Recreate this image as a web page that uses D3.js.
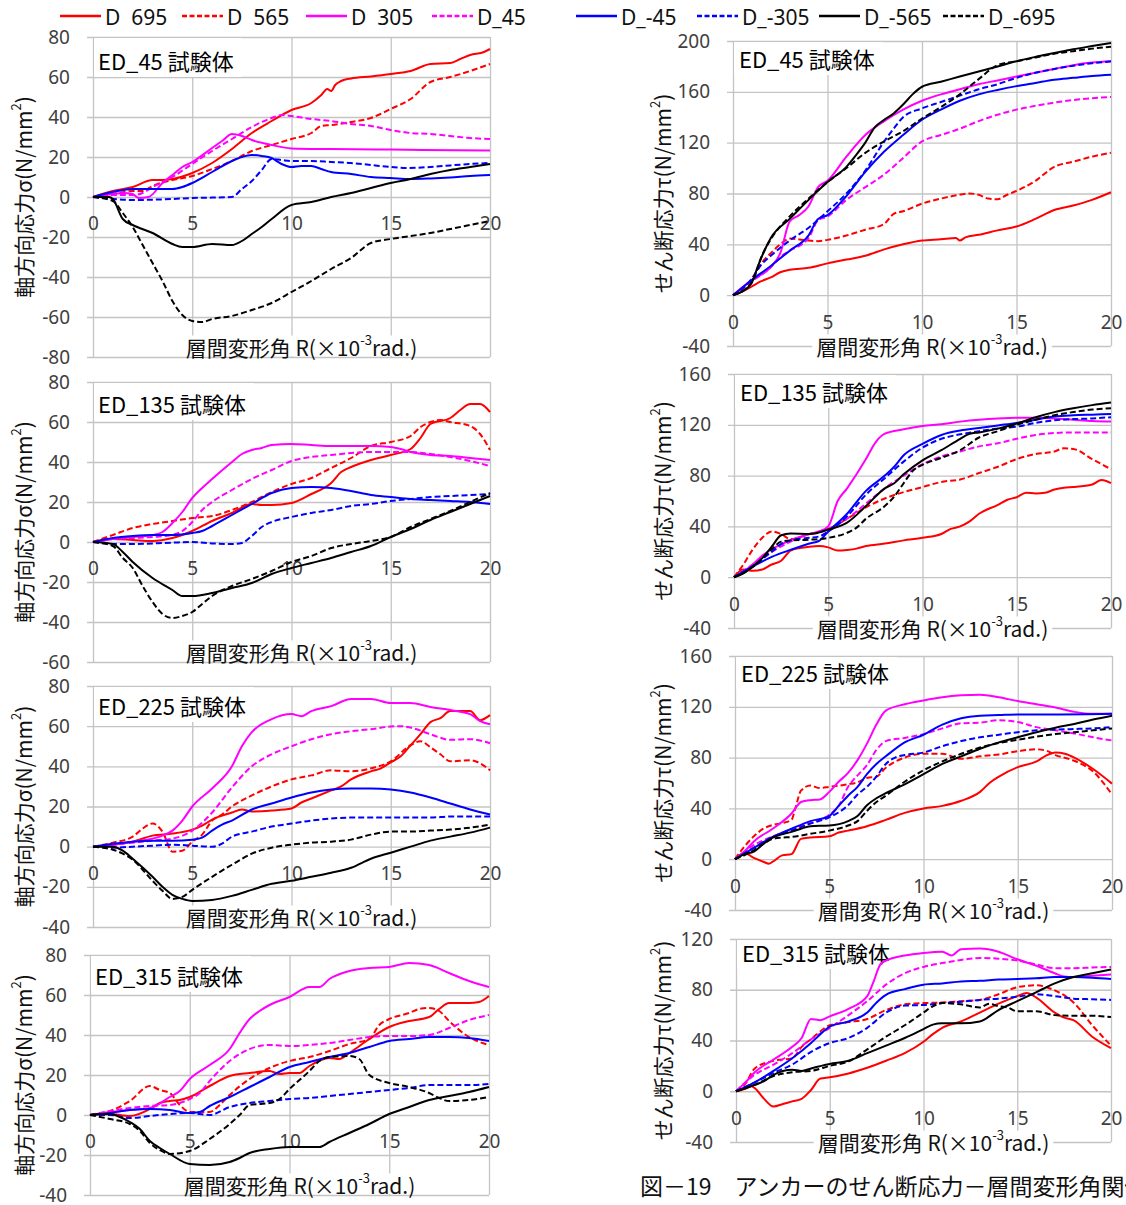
<!DOCTYPE html>
<html>
<head>
<meta charset="utf-8">
<script src="https://cdn.jsdelivr.net/npm/d3@7"></script>
<style>
  body { margin: 0; background: #fff; }
  svg { display: block; }
  .jp { font-family: "Noto Sans CJK JP", sans-serif; }
  .lat { font-family: "Noto Sans", "Noto Sans CJK JP", sans-serif; }
</style>
</head>
<body>
<svg id="chart" width="1126" height="1205"></svg>
<script>
// ---- data ----
const seriesNames = ["D  695", "D  565", "D  305", "D_45", "D_-45", "D_-305", "D_-565", "D_-695"];
const xTicks = [0, 5, 10, 15, 20];
const axialTicksA = [-80, -60, -40, -20, 0, 20, 40, 60, 80];
const axialTicksB = [-60, -40, -20, 0, 20, 40, 60, 80];
const axialTicksC = [-40, -20, 0, 20, 40, 60, 80];
const shearTicksA = [-40, 0, 40, 80, 120, 160, 200];
const shearTicksB = [-40, 0, 40, 80, 120, 160];
const shearTicksC = [-40, 0, 40, 80, 120];

// each panel: 8 series in seriesNames order, points [R, value]
const ed45Axial = [
  [[0,0],[1,3],[2,5],[3,8.5],[3.5,8.5],[4,9],[5,12],[6,17],[7,24],[8,32],[9,38],[10,43.5],[11,47],[11.5,51],[11.8,54],[12,53],[12.2,56],[12.5,58],[13,59.3],[14,60.3],[15,61.5],[16,63],[17,66.5],[18,67],[18.5,69],[19,71],[19.7,72.5],[20,74]],
  [[0,0],[1,1.5],[2,3],[2.5,3],[3,5.5],[4,8.5],[5,10.5],[6,14],[7,18],[8,23],[9,26],[10,29],[11,32],[11.5,35.5],[12,36],[13,37.5],[14,39.5],[15,44],[16,49],[17,57.5],[18,60],[19,63],[20,66.5]],
  [[0,0],[1,1.5],[1.5,2],[2,1.5],[2.3,-0.5],[2.8,0],[3.5,7],[4,11],[4.5,15],[5,17.5],[6,24.5],[6.5,28],[7,31.5],[7.5,30.5],[8,28.5],[9,26],[10,24.3],[12,24],[15,23.7],[20,23.3]],
  [[0,0],[1,1],[2,1],[2.5,2],[3,5],[4,10],[5,16.5],[6,23],[7,29],[8,35],[9,39.5],[9.5,41],[10,40.5],[11,39],[12,38],[13,36.5],[14,35.5],[15,33.5],[16,32],[17,31.5],[18,30.5],[19,29.5],[20,29]],
  [[0,0],[1,2.5],[1.7,3.8],[2,4],[3,4],[4,4],[4.5,5],[5,7],[6,12.5],[7,18],[7.5,20],[8,21],[8.5,20.5],[9,19.5],[9.5,16.5],[10,15],[10.5,15.5],[11,15.5],[11.5,14],[12,12.5],[13,11.5],[14,10],[15,9.5],[16,9],[17,9.3],[18,9.8],[19,10.5],[20,11]],
  [[0,0],[1,-1],[2,-1.5],[4,-1],[5,-0.5],[6,-0.3],[7,0],[7.5,4],[8,8],[8.5,13.5],[9,19],[9.5,18.5],[10,18],[11,18],[12,17.5],[13,17],[14,16],[15,15],[15.8,14.5],[17,15],[18,15.8],[19,16.5],[20,17]],
  [[0,0],[0.8,0],[1,-1],[1.5,-11],[2,-14],[3,-18],[4,-23.5],[4.5,-25],[5,-25],[6,-23.5],[7,-24],[7.5,-22],[8,-18.5],[8.5,-15],[9,-11],[10,-4],[11,-2.5],[12,0],[13,2],[14,4.5],[15,7],[16,9],[17,11.5],[18,13.5],[19,15],[20,16.5]],
  [[0,0],[1,-2],[1.5,-8],[2,-15],[2.5,-24],[3,-33],[3.5,-42],[4,-52],[4.5,-59],[5,-62],[5.5,-62.5],[6,-61],[7,-59.5],[8,-56.5],[9,-53],[10,-47.5],[11,-42],[12,-36],[13,-30.5],[14,-23],[15,-21],[16,-19.5],[17,-18],[18,-16],[19,-14],[20,-12]]
];
const ed45Shear = [
  [[0,0],[0.5,3],[1,7],[1.5,11],[2,14],[2.5,18],[3,20],[4,21.5],[5,25],[6,28],[7,31],[8,36],[9,40],[10,43],[11,44],[11.8,45],[12,43],[12.3,45.5],[13,47.5],[14,51],[15,54],[16,60],[17,67],[18,70.5],[19,75],[20,81]],
  [[0,0],[0.5,5],[1,13],[1.5,25],[2,33],[2.5,40],[3,44.5],[4,43],[4.5,42.5],[5,43.5],[6,47],[7,51.5],[8,56],[8.5,64],[9,66],[10,72],[11,76],[12,79],[12.5,80],[13,79],[13.5,76],[14,75.5],[14.5,79],[15,82],[16,90],[17,101],[18,105],[19,109],[20,112]],
  [[0,0],[1,12],[2,22],[2.5,33],[3,58],[3.5,63],[4,70],[4.5,85],[5,90],[6,109],[7,126],[8,137],[9,146],[10,153],[11,158],[12,162],[13,166],[14,169],[15,172],[16,175],[17,178],[18,181],[19,183],[20,184]],
  [[0,0],[1,11],[2,22],[2.5,30],[3,35],[4,45],[4.5,59],[5,62],[6,75],[7,85],[8,95],[9,108],[10,121],[11,126],[12,131],[13,137],[14,142],[15,146],[16,149],[17,151.5],[18,153.5],[19,155],[20,156]],
  [[0,0],[1,12],[2,23],[3,35],[4,47],[4.5,60],[5,63],[6,78],[7,97],[8,113],[9,126],[10,138],[11,146],[12,153],[13,158],[14,161.5],[15,164.5],[16,167],[17,169.5],[18,171],[19,172.5],[20,173.5]],
  [[0,0],[1,13],[1.5,24],[2,31],[3,43],[4,53],[5,66],[6,80],[7,98],[8,121],[8.5,131],[9,140],[10,147],[11,152],[12,157],[13,162],[14,166],[15,171],[16,175],[17,178],[18,180.5],[19,182.5],[20,184]],
  [[0,0],[0.5,3],[1,10],[1.3,22],[1.6,33],[2,45],[3,60],[4,75],[5,89],[6,101],[6.5,110],[7,120],[7.5,132],[8,138],[8.5,143],[9,150],[9.5,158],[10,164],[11,168],[12,172],[13,176],[14,180],[15,184],[16,187.5],[17,190.5],[18,193.5],[19,196],[20,198.5]],
  [[0,0],[1,10],[1.5,30],[2,44],[3,62],[4,76],[5,89],[6,100],[7,112],[8,121],[9,129],[10,139],[11,148],[12,158],[13,170],[14,181],[15,184],[16,187],[17,190],[18,192],[19,194],[20,195.5]]
];
const ed135Axial = [
  [[0,0],[1,1.5],[2,1],[3,0.5],[4,2],[5,5.5],[6,10.5],[7,14.5],[8,19],[8.5,18.5],[9,18.5],[10,19.5],[11,24],[12,29.5],[12.5,35],[13,37.5],[14,41],[15,43.5],[16,46.5],[16.5,52],[17,59],[18,62],[18.5,66],[19,69],[19.5,69],[20,65]],
  [[0,0],[1,3.5],[2,7],[3,9],[4,10.5],[5,12],[6,13],[7,16],[8,20],[9,25],[10,29],[11,32],[12,37],[13,42],[14,48],[15,50],[16,53],[16.5,57.5],[17,60],[17.5,61],[18,60],[19,58],[19.5,54],[20,46]],
  [[0,0],[1,1.5],[2,2.5],[3,3.5],[3.5,5],[4,9.5],[4.5,15],[5,22],[5.5,27],[6,31.5],[7,40],[7.5,44],[8,46],[8.5,47],[9,48.5],[10,49],[11,48.5],[12,48],[14,48],[15,47.5],[15.5,46.5],[16,45],[17,43.5],[18,43],[19,42],[20,41]],
  [[0,0],[1,1.5],[2,2],[3,2.5],[4,3.5],[4.5,5.5],[5,10],[5.5,16],[6,20],[7,26],[8,31.5],[9,36],[10,40.5],[11,42.5],[12,43.5],[13,44.5],[14,45],[16,45],[17,44],[18,42.5],[19,40.5],[20,38]],
  [[0,0],[1,2],[2,3],[3,3.5],[4,3.5],[5,4.5],[5.5,5.5],[6,8],[7,13.5],[8,19],[9,24.5],[10,27],[11,27.5],[12,27],[13,25.5],[14,23.5],[15,22.5],[16,21.5],[17,21],[18,20.5],[19,20],[20,19]],
  [[0,0],[1,-1],[2,-1],[4,-0.3],[5,0],[6,-0.7],[7,-1],[7.5,-0.5],[8,3],[8.5,7.5],[9,10],[10,12.5],[11,14.5],[12,16],[13,18],[14,19],[15,20.5],[16,21.5],[17,22.5],[18,23],[19,23.5],[20,24]],
  [[0,0],[1,-1],[1.5,-5],[2,-10],[3,-18],[4,-24],[4.5,-27],[5,-27],[6,-25.5],[7,-23],[8,-20.5],[9,-16],[10,-13],[11,-10.5],[12,-8],[13,-5],[14,-2],[15,2.5],[16,6.5],[17,11],[18,15],[19,19],[20,23]],
  [[0,0],[1,-2],[1.5,-8],[2,-13],[2.5,-22],[3,-30],[3.5,-36],[4,-38],[4.5,-37],[5,-35],[5.5,-31],[6,-27],[7,-22],[8,-18.5],[9,-14.5],[10,-10],[11,-7],[12,-3],[13,-1],[14,0.5],[15,2.5],[16,7.5],[17,11.5],[18,15.5],[19,20],[20,24.5]]
];
const ed135Shear = [
  [[0,0],[0.5,6],[1,5],[1.5,6],[2,10],[2.5,13],[3,21],[3.5,23],[4,24],[4.5,24.5],[5,23.5],[5.5,21],[6,21.5],[6.5,22.5],[7,24.5],[8,26.5],[9,29],[10,31],[11,34],[11.5,38],[12,40],[12.5,44],[13,50],[14,57],[14.5,61],[15,63],[15.5,66.5],[16,66],[16.5,66.5],[17,69],[17.5,70.5],[18,71],[19,73],[19.5,76.5],[20,74]],
  [[0,0],[0.5,10],[1,22],[1.5,31],[2,36],[2.5,34],[3,30],[4,34],[5,38],[6,46],[7,55],[8,62],[9,67],[10,71],[11,75],[12,77],[13,82],[14,87],[15,93],[16,97],[17,99],[17.5,101.5],[18,101],[19,93],[20,85]],
  [[0,0],[1,10],[1.5,17],[2,22],[3,29],[4,34],[4.5,36],[5,40],[5.5,60],[6,70],[7,93],[7.5,106],[8,113],[9,116.5],[10,119],[11,120.5],[12,122.5],[13,124],[14,125],[15,125.5],[16,125.5],[17,125],[18,124],[19,123],[20,122.5]],
  [[0,0],[1,10],[2,20],[3,28],[4,34],[4.5,35],[5,38],[6,46],[7,58],[8,70],[9,80],[10,89],[11,95],[12,99],[13,103],[14,105.5],[15,109],[16,112],[17,113.5],[18,114],[20,114]],
  [[0,0],[1,8.5],[2,16],[3,21.5],[4,26.5],[4.5,28.5],[5,36],[6,50],[7,68],[8,80],[8.5,87],[9,96],[10,105],[11,112],[12,115.5],[13,117.5],[14,119.5],[15,121.5],[16,124],[17,126.5],[18,127.5],[19,128],[20,128.5]],
  [[0,0],[1,9],[2,20],[2.5,26],[3,29],[4,31],[4.5,32],[5,36],[6,48],[7,65],[8,78],[9,91],[10,102],[11,109],[12,112.5],[13,115],[14,117],[15,118.5],[16,121.5],[17,123.5],[18,124.5],[19,125],[20,126]],
  [[0,0],[0.5,3],[1,8.5],[1.5,15],[2,24],[2.5,33],[3,34.5],[4,34],[5,37.5],[6,43],[7,56],[8,70],[8.5,74],[9,81],[10,92],[11,100],[12,109],[12.5,113],[13,114],[14,117],[15,121],[16,126],[17,130],[18,133],[19,135.5],[20,137.5]],
  [[0,0],[1,8],[2,22],[2.5,28],[3,29],[4,29.5],[5,31],[6,35],[6.5,39],[7,46],[8,56],[8.5,63.5],[9,74],[9.5,84],[10,88.5],[11,94],[12,100],[13,110],[14,115],[15,120],[16,124],[17,127.5],[18,130],[19,132],[20,133]]
];
const ed225Axial = [
  [[0,0],[1,1],[2,2.5],[3,5.5],[4,6.5],[5,8.5],[5.5,10.5],[6,13.5],[7,17],[7.5,18.5],[8,17.5],[9,18],[10,19],[10.5,22],[11,24],[12,28],[12.5,30],[13,33.5],[14,37.5],[14.5,39],[15,42],[15.5,45],[16,50.5],[16.5,56],[17,62],[17.5,64],[18,67.5],[19,67.5],[19.5,63],[20,65.5]],
  [[0,0],[1,2],[2,5],[2.5,9],[3,11.5],[3.5,7.5],[4,-2.5],[4.5,-2],[5,2.5],[5.5,6],[6,13],[6.5,16],[7,20],[8,25.5],[9,30],[10,33.5],[11,35.5],[12,38],[13,37.5],[14,39],[15,42.5],[16,50.5],[16.5,52.5],[17,49.5],[17.5,46],[18,42.5],[19,43],[19.5,41.5],[20,38]],
  [[0,0],[1,1],[2,2.5],[3,4],[3.5,5.5],[4,8],[4.5,13],[5,20],[6,29],[7,40],[7.5,50],[8,57],[9,63.5],[10,66],[10.5,65],[11,67.5],[12,70],[13,73.5],[14,73.5],[15,71.5],[16,71.5],[17,69.5],[18,68],[19,66],[19.5,62.5],[20,61]],
  [[0,0],[1,1],[2,2],[3,3],[4,4],[5,8],[5.5,12],[6,17],[7,29.5],[8,40],[9,46],[10,50],[11,53.5],[12,56],[13,57.5],[14,58.5],[15,59.8],[15.5,60],[16,59.3],[17,56],[18,53.2],[19,53.5],[20,51.5]],
  [[0,0],[1,1.5],[2,2.5],[3,3],[4,3],[5,3.5],[5.5,4.5],[6,8],[6.5,11],[7,13],[8,18.5],[9,21.5],[10,24.5],[11,27],[12,28.5],[13,29],[14,29],[15,28.5],[16,27],[17,24.5],[18,21.5],[19,18.5],[20,16]],
  [[0,0],[1,-0.5],[2,0],[3,0.5],[4,1],[5,0.5],[6,0],[6.5,1.5],[7,5],[8,7.5],[9,10],[10,11.5],[11,13],[12,14],[13,14.5],[14,14.5],[15,14.5],[16,14.5],[17,14.5],[18,15],[20,15]],
  [[0,0],[1,0],[1.5,-2],[2,-6],[3,-15],[3.5,-20],[4,-24],[4.5,-26],[5,-27],[6,-26.5],[7,-24.5],[8,-21.5],[9,-18.5],[10,-17],[11,-15],[12,-13],[13,-10.5],[14,-6],[15,-3],[16,0],[17,3],[18,5],[19,7],[20,9.5]],
  [[0,0],[1,-1.5],[1.5,-3.5],[2,-6.5],[3,-17],[3.5,-22],[4,-26],[4.5,-25],[5,-21.5],[6,-15],[7,-9],[8,-3.5],[9,-0.5],[10,1],[11,2],[12,2.5],[13,3.5],[14,6],[15,7.5],[16,7.5],[17,8],[18,8.5],[19,9.5],[20,11]]
];
const ed225Shear = [
  [[0,0],[0.5,5],[1,1],[1.5,-2],[1.8,-3.5],[2,-2],[2.5,3],[3,4],[3.5,16],[4,17],[5,18],[5.5,21],[6,22.5],[7,26],[8,31],[9,36.5],[10,40],[11,42],[12,46],[13,53],[13.5,60],[14,65],[15,72.5],[16,77],[16.5,81.5],[17,84],[17.5,83],[18,80],[19,71],[20,59.5]],
  [[0,0],[0.5,10],[1,18],[1.5,24],[2,27],[2.5,28.5],[3,31],[3.2,40],[3.5,54],[4,58],[4.5,56],[5,57],[6,59],[6.5,60.5],[7,64],[7.5,65],[8,72],[9,80],[10,83],[11,83],[12,79],[13,81],[14,82.5],[15,85],[16,86.5],[16.5,85.5],[17,82],[18,77.5],[19,69],[20,51]],
  [[0,0],[0.5,6],[1,14],[2,24],[3,36],[3.5,45],[4,46.5],[4.5,47],[5,53],[5.5,61],[6,68],[6.5,78],[7,91],[7.5,106],[8,117],[9,122],[10,125],[11,127.5],[12,129],[13,129.5],[14,127.5],[15,124.5],[16,122],[17,119.5],[18,116],[19,114.5],[20,114.5]],
  [[0,0],[1,11],[2,18],[3,23.5],[4,28.5],[5,35],[5.5,42],[6,57],[6.5,66],[7,74],[7.5,86],[8,93],[9,95.5],[10,98.5],[11,103],[12,107],[13,107.5],[14,109.5],[15,108],[16,104],[17,101.5],[18,99],[19,96],[20,93.5]],
  [[0,0],[1,9],[2,17.5],[3,24],[4,30],[5,34],[5.5,42],[6,50],[6.5,57],[7,67],[7.5,75],[8,81],[9,92],[10,98],[11,106],[12,111],[13,113],[14,113.5],[15,114],[17,114],[20,114.5]],
  [[0,0],[1,9],[2,17],[3,22.5],[4,28],[5,33],[6,42.5],[6.5,51],[7,57],[7.5,65],[8,75],[8.5,80],[9,82],[10,84],[11,89],[12,93],[13,96],[14,98],[15,100],[16,101.5],[17,102],[18,102.5],[19,103],[20,104]],
  [[0,0],[0.5,4],[1,6],[1.5,12],[2,17],[3,21.5],[3.5,24],[4,26],[5,26.5],[6,30],[6.5,34],[7,42.5],[7.5,48],[8,52],[9,59],[10,67],[11,75],[12,81],[13,87],[14,92],[15,96],[16,100],[17,103.5],[18,106.5],[19,110],[20,113]],
  [[0,0],[1,7],[1.5,12],[2,16],[2.5,17],[3,17.5],[4,20],[5,22.5],[6,26.5],[6.5,30],[7,38],[7.5,45],[8,50],[9,61],[10,70],[11,77],[12,83],[13,88],[14,91.5],[15,94],[16,96.5],[17,98.5],[18,100],[19,101.5],[20,103]]
];
const ed315Axial = [
  [[0,0],[1,0.5],[2,-0.5],[3,3],[3.5,6],[4,7],[4.5,7.5],[5,9],[6,14.5],[7,19.5],[8,21],[9,22],[9.5,20.5],[10,21],[10.5,21],[11,24.5],[12,28.5],[12.5,28],[13,31],[14,38],[15,44],[16,47],[17,49],[17.5,53],[18,56],[19,56],[19.5,56.5],[20,59.5]],
  [[0,0],[1,2],[2,7],[3,14.5],[3.5,12.5],[4,11],[4.5,5],[5,1.5],[6,1.5],[6.5,5],[7,10],[8,18],[9,23.5],[10,27],[11,29],[12,32],[13,35.5],[14,38],[14.5,45],[15,48],[16,51],[16.5,53],[17,53.5],[17.5,52],[18,47],[19,39],[20,35]],
  [[0,0],[1,1.5],[2,2.5],[3,3.5],[4,9],[4.5,12],[5,18],[6,25],[7,33],[7.5,41],[8,48],[8.5,52],[9,55],[10,59],[11,64],[11.5,64],[12,68],[13,72],[14,73.5],[15,74],[16,76],[17,75],[18,71],[19,67],[20,64]],
  [[0,0],[1,2],[2,3.5],[3,4.5],[4,5],[5,8],[5.5,11],[6,17],[7,27],[8,33],[9,35],[10,34.5],[11,35],[12,36],[13,37.5],[14,39],[15,39.5],[16,39.5],[17,40],[18,43.5],[19,47.5],[20,50]],
  [[0,0],[1,1],[2,2.5],[3,3],[4,2.5],[5,1],[5.5,1.5],[6,4.5],[7,9],[8,14],[9,19],[10,24],[11,26.5],[12,29],[13,31],[14,34],[15,37],[16,38],[17,39],[18,39],[19,38.5],[20,37]],
  [[0,0],[1,0],[2,-1.5],[3,-0.5],[4,0.5],[5,1],[6,0],[7,4],[8,6],[9,7],[10,8],[11,8.5],[12,9.5],[13,10.5],[14,11.5],[15,12.5],[16,13.5],[17,15],[18,15],[19,15],[20,15.5]],
  [[0,0],[0.5,0.5],[1,0.5],[1.5,-1],[2,-3.5],[2.5,-7],[3,-13],[3.5,-16.5],[4,-19.5],[5,-24.5],[6,-25],[7,-23.5],[7.5,-21.5],[8,-19],[9,-17],[10,-16],[11,-16],[11.5,-16],[12,-13.5],[13,-9],[14,-4.5],[15,0.5],[16,4],[17,7.5],[18,9.5],[19,11.5],[20,14]],
  [[0,0],[1,-2],[2,-4.5],[2.5,-8],[3,-14],[3.5,-17.5],[4,-19.5],[5,-18],[6,-12],[7,-4.5],[7.5,0],[8,5],[8.5,5.5],[9,6],[9.5,8],[10,13],[11,22],[11.5,27],[12,29],[13,29.5],[13.5,28],[14,20],[15,16],[16,14],[17,11],[17.5,8.5],[18,7],[19,7.5],[20,9]]
];
const ed315Shear = [
  [[0,0],[0.5,2],[0.8,4],[1,2.5],[1.5,-6],[2,-12],[2.5,-10],[3,-8],[3.5,-6],[4,1],[4.5,10],[5,11],[6,14],[7,18.5],[8,24],[9,30],[10,39],[10.5,45],[11,50],[12,55],[13,62],[14,69],[15,75],[15.5,77.5],[16,74],[17,62],[17.5,58],[18,56],[19,43],[20,34]],
  [[0,0],[0.5,6],[1,18],[2,24],[3,26],[3.5,35],[4,41],[5,52],[6,54.5],[7,57],[8,64],[9,68.5],[10,69.5],[11,70],[12,71],[13,72],[14,76.5],[15,82],[16,83.5],[17,79.5],[18,70],[19,52],[20,36]],
  [[0,0],[0.5,7],[1,15],[2,25],[3,35],[3.5,42],[4,57],[4.5,56],[5,59],[6,65],[7,75],[7.3,85],[7.7,100],[8,103],[9,107],[10,109],[11,110],[11.5,107],[12,112],[13,112.5],[14,110],[15,104],[16,99],[17,93],[17.5,90.5],[18,90],[19,91],[20,92]],
  [[0,0],[1,13],[2,21],[3,30],[4,41],[5,50],[6,60],[7,71],[8,84],[9,93],[10,98],[11,101],[12,103.5],[13,105],[14,104.5],[15,103],[16,100],[17,97],[18,97],[19,97.5],[20,98]],
  [[0,0],[1,7],[2,16],[3,26],[4,38],[4.5,45],[5,51],[6,55],[7,62],[7.5,70],[8,76],[9,80.5],[10,84],[11,85],[12,86.5],[13,87],[14,88],[15,88.5],[16,89],[17,90],[18,90],[19,89.5],[20,88.5]],
  [[0,0],[1,7],[2,14.5],[3,21],[4,31],[5,38],[6,42],[7,50],[8,62],[9,67.5],[10,68],[11,69.5],[12,70.5],[13,72],[14,73],[15,74.5],[16,76.5],[17,75],[18,73],[19,72.5],[20,72]],
  [[0,0],[1,5],[1.5,8],[2,13],[3,17],[3.5,16],[4,18],[5,21.5],[6,24],[7,30],[8,36],[9,42],[10,49],[10.5,52.5],[11,53.5],[12,53.5],[13,55],[14,64],[15,71],[16,78],[17,85],[18,90],[19,93],[20,96]],
  [[0,0],[1,5],[2,12],[3,15],[4,16],[5,20],[6,23.5],[7,33],[8,43],[9,52],[10,62],[10.5,67],[11,69.5],[12,68.5],[13,66],[13.5,69],[14,67],[14.5,66],[15,63],[16,63],[17,60],[18,59.5],[19,59.5],[20,58.5]]
];

// ---- styles / layout ----
const seriesColor = ["#ff0000", "#ff0000", "#ff00ff", "#ff00ff", "#0000ff", "#0000ff", "#000000", "#000000"];
const seriesDash = [null, "6,3", null, "6,3", null, "6,3", null, "6,3"];
const gridColor = "#c4c4c4";
const tickColor = "#404040";

const panels = [
  {data: ed45Axial,  name: "ED_45 試験体",  ticks: axialTicksA, kind: "axial", x0: 93,  x1: 490,  yTop: 37,  yBot: 357,  labDy: 23},
  {data: ed135Axial, name: "ED_135 試験体", ticks: axialTicksB, kind: "axial", x0: 93,  x1: 490,  yTop: 382, yBot: 662,  labDy: 21},
  {data: ed225Axial, name: "ED_225 試験体", ticks: axialTicksC, kind: "axial", x0: 93,  x1: 490,  yTop: 686, yBot: 927,  labDy: 19},
  {data: ed315Axial, name: "ED_315 試験体", ticks: axialTicksC, kind: "axial", x0: 90,  x1: 489,  yTop: 955, yBot: 1195, labDy: 20},
  {data: ed45Shear,  name: "ED_45 試験体",  ticks: shearTicksA, kind: "shear", x0: 733, x1: 1111, yTop: 41,  yBot: 346,  labDy: 17},
  {data: ed135Shear, name: "ED_135 試験体", ticks: shearTicksB, kind: "shear", x0: 734, x1: 1111, yTop: 374, yBot: 628,  labDy: 17},
  {data: ed225Shear, name: "ED_225 試験体", ticks: shearTicksB, kind: "shear", x0: 735, x1: 1112, yTop: 656, yBot: 910,  labDy: 16},
  {data: ed315Shear, name: "ED_315 試験体", ticks: shearTicksC, kind: "shear", x0: 736, x1: 1111, yTop: 939, yBot: 1142, labDy: 13}
];

const svg = d3.select("#chart");
const plainNum = d => String(d);   // hyphen minus, like the original

// ---- legend ----
const legendStarts = [60, 182, 306, 432, 576, 697, 819, 943];
seriesNames.forEach((name, i) => {
  const lx = legendStarts[i];
  svg.append("line")
    .attr("x1", lx).attr("x2", lx + 41).attr("y1", 16).attr("y2", 16)
    .attr("stroke", seriesColor[i]).attr("stroke-width", 2.5)
    .attr("stroke-dasharray", seriesDash[i] ? "5,2.5" : null);
  svg.append("text").attr("class", "lat")
    .attr("x", lx + 45).attr("y", 17)
    .attr("dominant-baseline", "central")
    .attr("font-size", 21).attr("fill", "#111")
    .style("white-space", "pre")
    .text(name);
});

// white box behind a text node
function boxBehind(g, textSel, padX, padTop, padBot, minX, minY) {
  const b = textSel.node().getBBox();
  const x = minX != null ? minX : b.x - padX;
  const y = minY != null ? minY : b.y - padTop;
  g.insert("rect", () => textSel.node())
    .attr("x", x).attr("y", y)
    .attr("width", b.x + b.width + padX - x)
    .attr("height", b.y + b.height + padBot - y)
    .attr("fill", "#fff");
}

panels.forEach(p => {
  const x = d3.scaleLinear().domain([0, 20]).range([p.x0, p.x1]);
  const y = d3.scaleLinear().domain(d3.extent(p.ticks)).range([p.yBot, p.yTop]);
  const g = svg.append("g");

  // horizontal gridlines (with short outside tick) + y labels
  g.append("g")
    .attr("transform", `translate(${p.x0 - 6},0)`)
    .call(d3.axisLeft(y).tickValues(p.ticks).tickFormat(plainNum).tickSize(-(p.x1 - p.x0 + 6)).tickPadding(17))
    .attr("font-size", 19).attr("font-family", '"Noto Sans", sans-serif')
    .call(a => a.select(".domain").remove())
    .call(a => a.selectAll("line").attr("stroke", gridColor).attr("stroke-width", 1.3))
    .call(a => a.selectAll("text").attr("fill", tickColor));

  // vertical gridlines
  g.append("g")
    .attr("transform", `translate(0,${p.yBot})`)
    .call(d3.axisBottom(x).tickValues(xTicks).tickSize(-(p.yBot - p.yTop)).tickFormat(""))
    .call(a => a.select(".domain").remove())
    .call(a => a.selectAll("line").attr("stroke", gridColor).attr("stroke-width", 1.3));

  // x labels along the zero line
  g.append("g")
    .attr("transform", `translate(0,${y(0)})`)
    .call(d3.axisBottom(x).tickValues(xTicks).tickFormat(plainNum).tickSize(0).tickPadding(20))
    .attr("font-size", 19).attr("font-family", '"Noto Sans", sans-serif')
    .call(a => a.select(".domain").remove())
    .call(a => a.selectAll("text").attr("fill", tickColor));

  // panel label
  const lab = g.append("text").attr("class", "jp")
    .attr("x", p.x0 + (p.kind === "axial" ? 5 : 6))
    .attr("y", p.yTop + p.labDy)
    .attr("dominant-baseline", "central")
    .attr("font-size", 22).attr("fill", "#000")
    .text(p.name);
  boxBehind(g, lab, 8, 0, 1, p.x0 + 1, p.yTop + 1);

  // series
  const line = d3.line().x(d => x(d[0])).y(d => y(d[1])).curve(d3.curveMonotoneX);
  p.data.forEach((s, i) => {
    g.append("path")
      .attr("d", line(s))
      .attr("fill", "none")
      .attr("stroke", seriesColor[i])
      .attr("stroke-width", 2)
      .attr("stroke-linejoin", "round")
      .attr("stroke-dasharray", seriesDash[i]);
  });

  // x-axis title
  const ttl = g.append("text").attr("class", "jp")
    .attr("x", (p.x0 + p.x1) / 2 + 10)
    .attr("y", p.kind === "axial" ? p.yBot - 10 : p.yBot)
    .attr("text-anchor", "middle")
    .attr("dominant-baseline", "central")
    .attr("font-size", 21).attr("fill", "#111");
  ttl.append("tspan").text("層間変形角 R(×10");
  ttl.append("tspan").attr("font-size", 13).attr("dy", -8).text("-3");
  ttl.append("tspan").attr("dy", 8).text("rad.)");
  boxBehind(g, ttl, 4, -6, -6);

  // y-axis title
  const yt = svg.append("text").attr("class", "jp")
    .attr("transform", `translate(${p.kind === "axial" ? 23 : 662},${(p.yTop + p.yBot) / 2}) rotate(-90)`)
    .attr("text-anchor", "middle")
    .attr("dominant-baseline", "central")
    .attr("font-size", 21).attr("fill", "#111");
  yt.append("tspan").text(p.kind === "axial" ? "軸方向応力σ(N/mm" : "せん断応力τ(N/mm");
  yt.append("tspan").attr("font-size", 13).attr("dy", -8).text("2");
  yt.append("tspan").attr("dy", 8).text(")");
});

// caption
svg.append("text").attr("class", "jp")
  .attr("x", 640).attr("y", 1185)
  .attr("dominant-baseline", "central")
  .attr("font-size", 23).attr("fill", "#111")
  .text("図－19　アンカーのせん断応力－層間変形角関係");
</script>
</body>
</html>
